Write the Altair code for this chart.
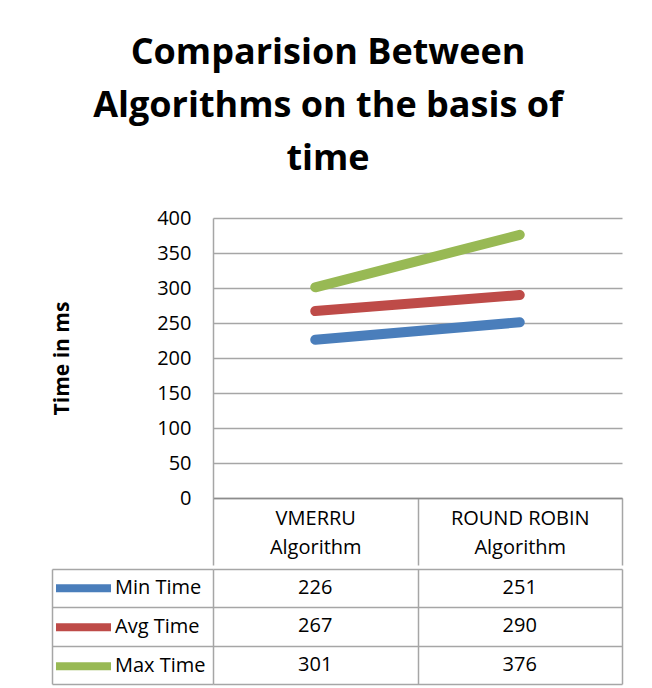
import altair as alt
import pandas as pd

# ---- data ----
categories = ["VMERRU\nAlgorithm", "ROUND ROBIN\nAlgorithm"]
series = ["Min Time", "Avg Time", "Max Time"]
min_time = [226, 251]
avg_time = [267, 290]
max_time = [301, 376]
series_colors = ["#4a7ebb", "#be4b48", "#98b954"]
y_tick_values = [0, 50, 100, 150, 200, 250, 300, 350, 400]
title_lines = ["Comparision Between", "Algorithms on the basis of", "time"]
y_title = "Time in ms"

rows = []
for s, vals in zip(series, [min_time, avg_time, max_time]):
    for c, v in zip(categories, vals):
        rows.append({"algorithm": c, "series": s, "time": v})
df = pd.DataFrame(rows)

FONT = "Open Sans"
GRID = "#a6a6a6"
PLOT_W = 409
PLOT_H = 280
ROW_H = 38.3
LEFT_COL = 161

x_scale = alt.Scale(domain=categories, paddingInner=0, paddingOuter=0)
color_scale = alt.Scale(domain=series, range=series_colors)

top = alt.Chart(df).mark_line(strokeWidth=10, strokeCap="round").encode(
    x=alt.X(
        "algorithm:N", scale=x_scale, sort=categories,
        axis=alt.Axis(
            title=None, labelExpr="split(datum.label, '\\n')", labelAngle=0,
            labelFont=FONT, labelFontSize=20, labelColor="black",
            labelLineHeight=29, labelPadding=-57, labelBaseline="top",
            labelLimit=400, tickBand="extent", tickSize=67, tickColor=GRID,
            tickWidth=1.5, domainColor="#8c8c8c", domainWidth=1.5, grid=False,
        ),
    ),
    y=alt.Y(
        "time:Q", scale=alt.Scale(domain=[0, 400]),
        axis=alt.Axis(
            values=y_tick_values, title=y_title, titleFont=FONT, titleFontSize=21,
            titleFontWeight="bold", titleColor="black", titlePadding=84,
            labelFont=FONT, labelFontSize=20, labelColor="black", labelPadding=22,
            ticks=False, domainColor=GRID, domainWidth=1.5,
            gridColor=GRID, gridWidth=1.5,
        ),
    ),
    color=alt.Color("series:N", scale=color_scale, sort=series, legend=None),
).properties(width=PLOT_W, height=PLOT_H, view=alt.ViewBackground(stroke="transparent"))

t_x = alt.X(
    "algorithm:N", scale=x_scale, sort=categories,
    axis=alt.Axis(title=None, labels=False, ticks=False, domain=False, grid=True,
                  tickBand="extent", gridColor=GRID, gridWidth=1.5),
)
t_yscale = alt.Scale(domain=series, paddingInner=0, paddingOuter=0)

table_text = alt.Chart(df).mark_text(font=FONT, fontSize=20, color="black").encode(
    x=t_x,
    y=alt.Y(
        "series:N", scale=t_yscale, sort=series,
        axis=alt.Axis(title=None, orient="left", labels=False, ticks=True,
                      tickBand="extent", tickSize=LEFT_COL, tickColor=GRID,
                      tickWidth=1.5, domain=False, grid=True, gridColor=GRID,
                      gridWidth=1.5),
    ),
    text=alt.Text("time:Q"),
)

table_keys = alt.Chart(df).mark_line(strokeWidth=0).encode(
    x=t_x,
    y=alt.Y(
        "series:N", scale=t_yscale, sort=series,
        axis=alt.Axis(title=None, orient="left", labels=False, ticks=False,
                      grid=False, domain=True, domainColor=GRID, domainWidth=1.5,
                      offset=LEFT_COL),
    ),
    color=alt.Color(
        "series:N", scale=color_scale, sort=series,
        legend=alt.Legend(
            orient="none", legendX=-LEFT_COL, legendY=0, title=None,
            symbolType="stroke", symbolSize=3025, symbolStrokeWidth=8,
            symbolOpacity=1, clipHeight=ROW_H, rowPadding=0, padding=0,
            labelFont=FONT, labelFontSize=20, labelColor="black", labelOffset=0,
        ),
    ),
)

table = alt.layer(table_text, table_keys).resolve_axis(y="independent").properties(
    width=PLOT_W, height=3 * ROW_H, view=alt.ViewBackground(stroke="transparent")
)

chart = alt.vconcat(top, table, spacing=0).resolve_scale(color="independent").properties(
    title=alt.TitleParams(
        text=title_lines, font=FONT, fontSize=36, fontWeight="bold", color="black",
        lineHeight=53, anchor="middle", offset=30, dx=-9,
    ),
    padding={"left": 42, "top": 26, "right": 10, "bottom": 5},
).configure(background="white")

chart.save("out.html", embed_options={"renderer": "svg", "actions": False})
